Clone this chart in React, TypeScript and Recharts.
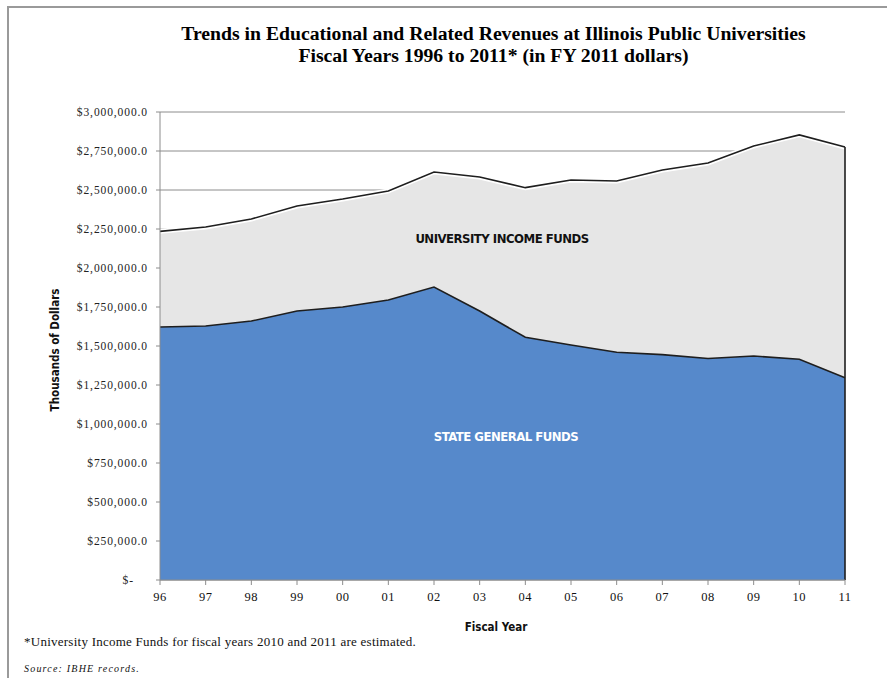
import { ComposedChart, Area, Line, XAxis, YAxis, CartesianGrid, ReferenceLine } from 'recharts'

// fiscal years 1996..2011, thousands of FY2011 dollars
const years = ['96', '97', '98', '99', '00', '01', '02', '03', '04', '05', '06', '07', '08', '09', '10', '11']
const stateGeneralFunds = [1622000, 1628000, 1660000, 1724000, 1750000, 1795000, 1878000, 1724000, 1556000, 1506000, 1460000, 1445000, 1420000, 1436000, 1415000, 1297000]
const universityIncomeFunds = [613000, 635000, 654000, 673000, 692000, 699000, 737000, 859000, 959000, 1058000, 1098000, 1183000, 1253000, 1346000, 1438000, 1478000]
const yTicks = [0, 250000, 500000, 750000, 1000000, 1250000, 1500000, 1750000, 2000000, 2250000, 2500000, 2750000, 3000000]

const data = years.map((year, i) => ({
  year,
  state: stateGeneralFunds[i],
  univ: universityIncomeFunds[i],
  total: stateGeneralFunds[i] + universityIncomeFunds[i],
}))

const SERIF = '"Liberation Serif", "Times New Roman", serif'
const SANS = '"DejaVu Sans Condensed", "Open Sans", sans-serif'
const BLUE = '#5689cb'
const GREY = '#e6e6e6'
const last = data[data.length - 1]

function YTick({ x, y, payload }: any) {
  const v = payload.value as number
  const label = v === 0 ? '$-' : `$${v.toLocaleString('en-US')}.0`
  return (
    <text x={v === 0 ? x - 14 : x} y={y} dy={4} textAnchor="end" style={{ fontFamily: SERIF, fontSize: 11.5, letterSpacing: 0.9 }} fill="#222">
      {label}
    </text>
  )
}

function XTick({ x, y, payload }: any) {
  return (
    <text x={x} y={y} dy={12} textAnchor="middle" style={{ fontFamily: SERIF, fontSize: 12.5, letterSpacing: 0.5 }} fill="#111">
      {payload.value}
    </text>
  )
}

export default function App() {
  return (
    <div style={{ position: 'absolute', left: 0, top: 0, width: 887, height: 678, overflow: 'hidden', background: '#fff' }}>
      <div style={{ position: 'absolute', left: 7, top: 6, right: -10, bottom: -10, borderTop: '2px solid #9a9a9a', borderLeft: '2px solid #9a9a9a' }} />

      <div style={{ position: 'absolute', left: 0, width: 987, top: 22, textAlign: 'center', fontFamily: SERIF, fontWeight: 'bold', fontSize: 19.7, lineHeight: '22px', color: '#000' }}>
        Trends in Educational and Related Revenues at Illinois Public Universities
        <br />
        Fiscal Years 1996 to 2011* (in FY 2011 dollars)
      </div>

      <div style={{ position: 'absolute', left: 0, top: 0 }}>
        <ComposedChart width={887} height={678} data={data} margin={{ top: 112, right: 42, bottom: 68, left: 60 }}>
          <CartesianGrid vertical={false} stroke="#8c8c8c" />
          <XAxis
            dataKey="year"
            height={30}
            axisLine={{ stroke: '#8c8c8c' }}
            tickLine={{ stroke: '#8c8c8c' }}
            tickSize={5}
            tickMargin={4}
            tick={<XTick />}
            interval={0}
          />
          <YAxis
            width={100}
            domain={[0, 3000000]}
            ticks={yTicks}
            interval={0}
            axisLine={{ stroke: '#8c8c8c' }}
            tickLine={{ stroke: '#8c8c8c' }}
            tickSize={4}
            tickMargin={8}
            tick={<YTick />}
          />
          <Area type="linear" dataKey="state" stackId="a" stroke="none" fill={BLUE} fillOpacity={1} isAnimationActive={false} />
          <Area type="linear" dataKey="univ" stackId="a" stroke="none" fill={GREY} fillOpacity={1} isAnimationActive={false} />
          <Line type="linear" dataKey="total" stroke="#ffffff" strokeWidth={5} dot={false} activeDot={false} isAnimationActive={false} />
          <Line type="linear" dataKey="total" stroke="#1e1e1e" strokeWidth={1.6} dot={false} activeDot={false} isAnimationActive={false} />
          <Line type="linear" dataKey="state" stroke="#1e1e1e" strokeWidth={1.6} dot={false} activeDot={false} isAnimationActive={false} />
          <ReferenceLine segment={[{ x: last.year, y: 0 }, { x: last.year, y: last.total }]} stroke="#1e1e1e" strokeWidth={1.6} />
        </ComposedChart>
      </div>

      <div style={{ position: 'absolute', left: 402, top: 231, width: 200, textAlign: 'center', fontFamily: SANS, fontWeight: 'bold', fontSize: 13, letterSpacing: -0.5, color: '#111', whiteSpace: 'nowrap' }}>
        UNIVERSITY INCOME FUNDS
      </div>
      <div style={{ position: 'absolute', left: 406, top: 429, width: 200, textAlign: 'center', fontFamily: SANS, fontWeight: 'bold', fontSize: 13, letterSpacing: -0.5, color: '#fff', whiteSpace: 'nowrap' }}>
        STATE GENERAL FUNDS
      </div>

      <div style={{ position: 'absolute', left: 55, top: 350, transform: 'translate(-50%, -50%) rotate(-90deg)', fontFamily: SANS, fontWeight: 'bold', fontSize: 11.5, color: '#111', whiteSpace: 'nowrap' }}>
        Thousands of Dollars
      </div>
      <div style={{ position: 'absolute', left: 446, top: 620, width: 100, textAlign: 'center', fontFamily: SANS, fontWeight: 'bold', fontSize: 11.5, color: '#111' }}>
        Fiscal Year
      </div>

      <div style={{ position: 'absolute', left: 24, top: 634, fontFamily: SERIF, fontSize: 13, letterSpacing: 0.25, color: '#111', whiteSpace: 'nowrap' }}>
        *University Income Funds for fiscal years 2010 and 2011 are estimated.
      </div>
      <div style={{ position: 'absolute', left: 24, top: 663, fontFamily: SERIF, fontStyle: 'italic', fontSize: 10, color: '#111', whiteSpace: 'nowrap', letterSpacing: 1.2 }}>
        Source: IBHE records.
      </div>
    </div>
  )
}
